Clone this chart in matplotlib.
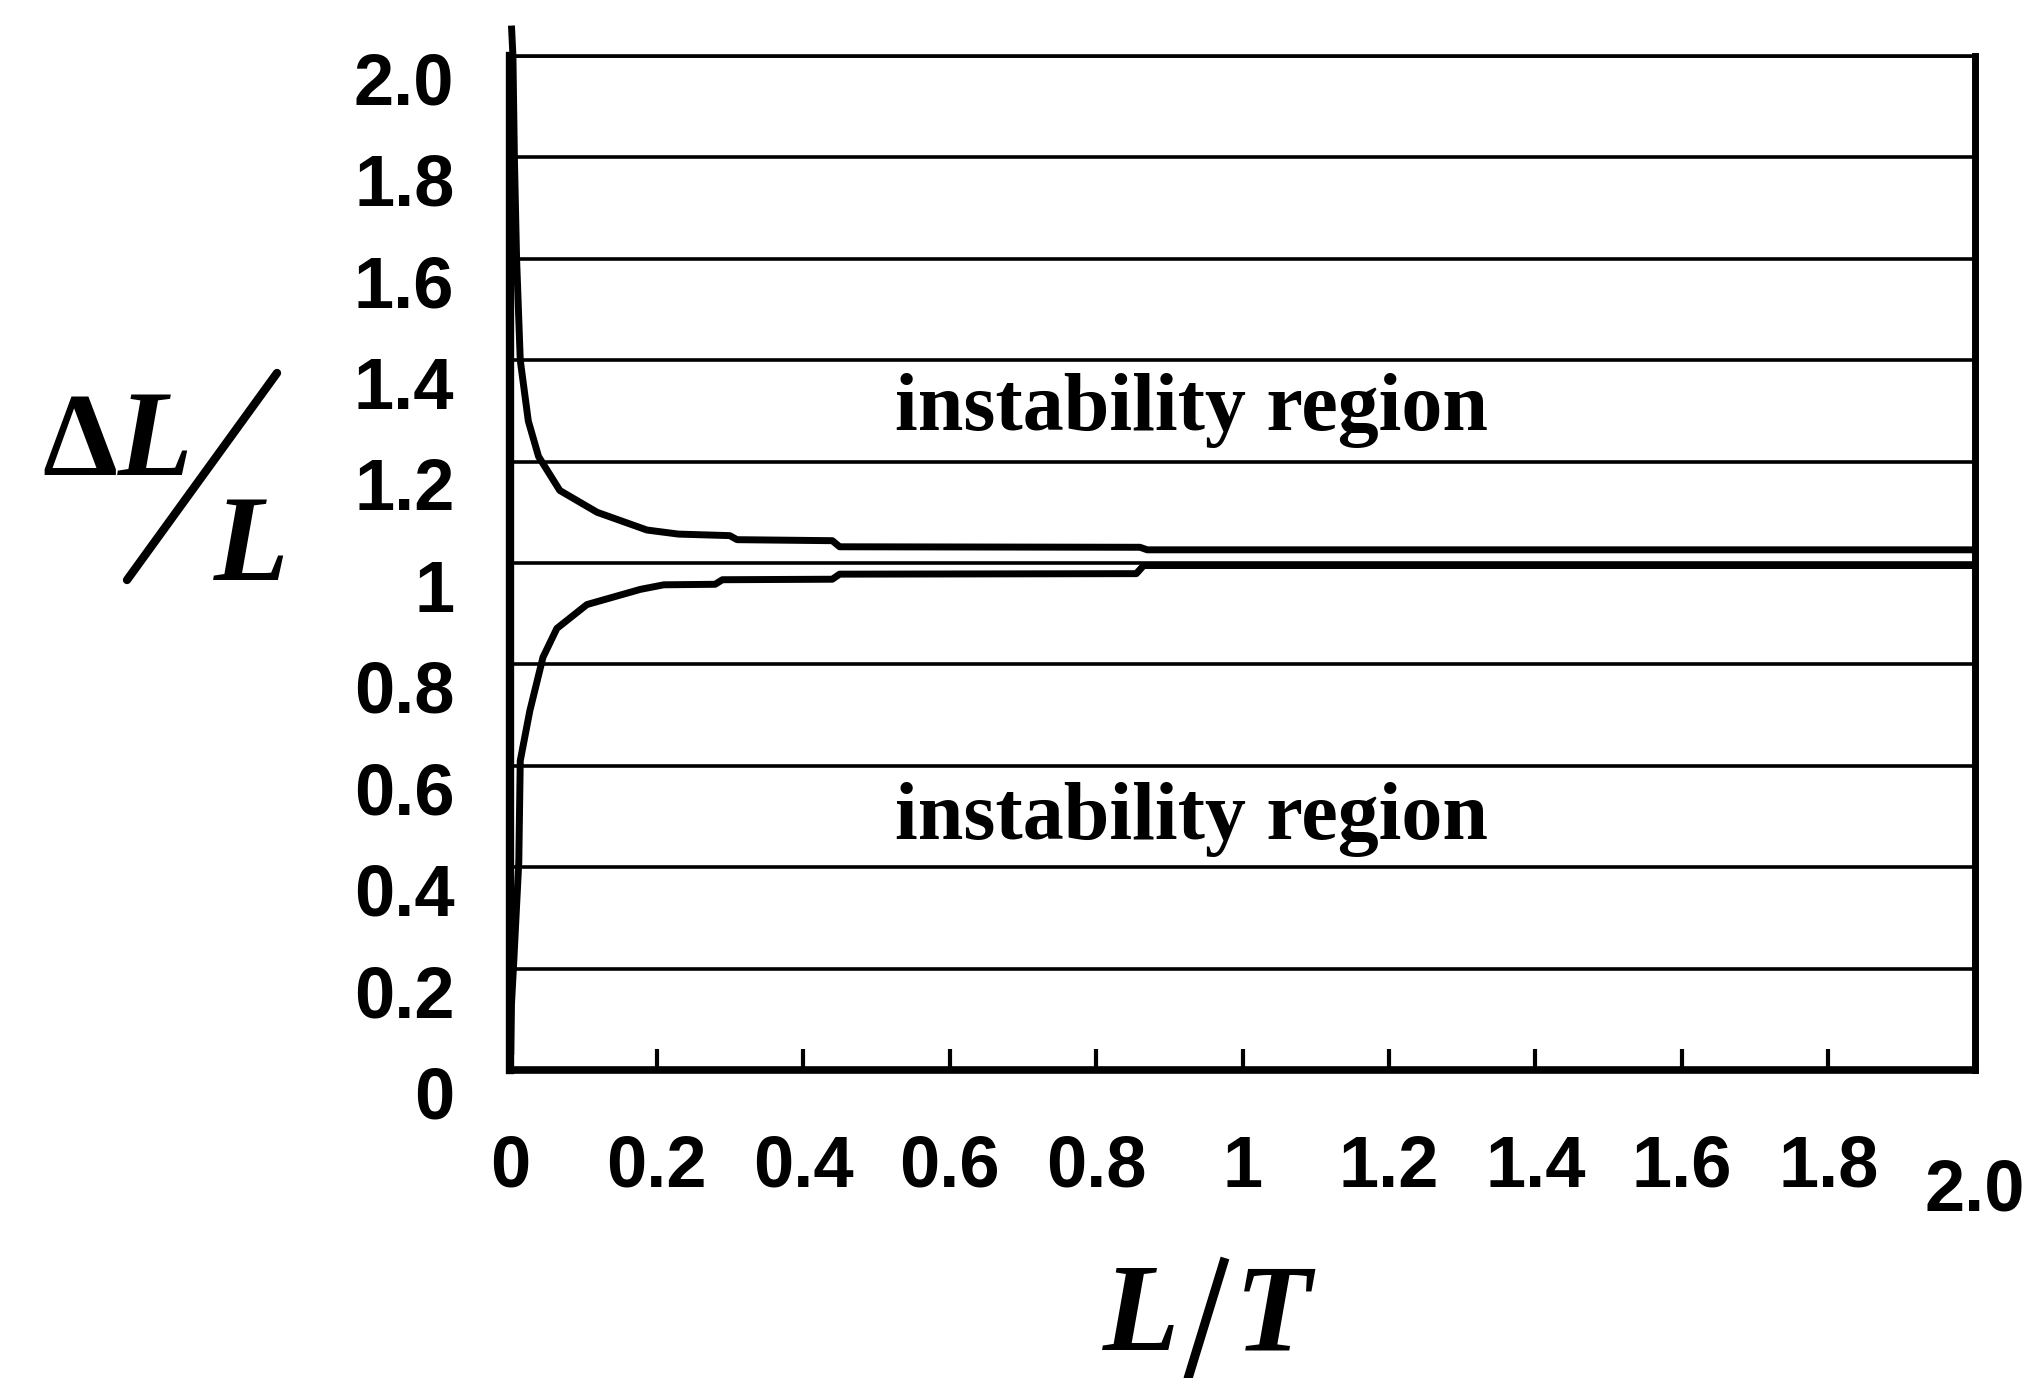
import matplotlib
matplotlib.use("Agg")
import matplotlib.pyplot as plt
from matplotlib.lines import Line2D
from matplotlib.transforms import ScaledTranslation

# ---- data ----
upper_x = [0.002, 0.004, 0.006, 0.009, 0.014, 0.025, 0.039, 0.068, 0.119, 0.187,
           0.23, 0.30, 0.31, 0.44, 0.45, 0.86, 0.87, 2.0]
upper_y = [2.06, 2.0, 1.8, 1.6, 1.4, 1.28, 1.21, 1.143, 1.10, 1.065,
           1.057, 1.054, 1.046, 1.044, 1.032, 1.031, 1.026, 1.026]
lower_x = [0.001, 0.002, 0.005, 0.012, 0.014, 0.027, 0.045, 0.064, 0.105, 0.178,
           0.21, 0.28, 0.29, 0.44, 0.45, 0.855, 0.865, 2.0]
lower_y = [0.03, 0.13, 0.21, 0.41, 0.61, 0.708, 0.814, 0.871, 0.918, 0.948,
           0.957, 0.958, 0.967, 0.968, 0.978, 0.979, 0.995, 0.995]

x_ticks = [0, 0.2, 0.4, 0.6, 0.8, 1.0, 1.2, 1.4, 1.6, 1.8, 2.0]
x_labels = ["0", "0.2", "0.4", "0.6", "0.8", "1", "1.2", "1.4", "1.6", "1.8", "2.0"]
y_ticks = [0, 0.2, 0.4, 0.6, 0.8, 1.0, 1.2, 1.4, 1.6, 1.8, 2.0]
y_labels = ["0", "0.2", "0.4", "0.6", "0.8", "1", "1.2", "1.4", "1.6", "1.8", "2.0"]
region_text = "instability region"
region_pos = [(0.93, 1.262), (0.93, 0.455)]

W, H = 2043, 1378
fig = plt.figure(figsize=(W / 100, H / 100), dpi=100)
ax = fig.add_axes([510 / W, 1 - 1070 / H, (1975 - 510) / W, (1070 - 56) / H])

ax.set_xlim(0, 2.0)
ax.set_ylim(0, 2.0)

ax.plot(upper_x, upper_y, color="black", lw=5, clip_on=False, solid_capstyle="butt")
ax.plot(lower_x, lower_y, color="black", lw=5, solid_capstyle="butt")

ax.yaxis.grid(True, color="black", lw=2.6)
ax.set_axisbelow(True)

tick_font = dict(family=["Liberation Sans Narrow", "Liberation Sans"], weight="bold", size=52)
ax.set_xticks(x_ticks)
ax.set_xticklabels(x_labels, fontdict=tick_font)
ax.set_yticks(y_ticks)
ax.set_yticklabels(y_labels, fontdict=tick_font)
ax.tick_params(axis="x", direction="in", length=15, width=3, pad=46, color="black")
ax.tick_params(axis="y", length=0, pad=40)
shift = ScaledTranslation(0, -22 / 100, fig.dpi_scale_trans)
for lab in ax.get_yticklabels():
    lab.set_transform(lab.get_transform() + shift)
last = ax.get_xticklabels()[-1]
last.set_transform(last.get_transform() + ScaledTranslation(0, -24 / 100, fig.dpi_scale_trans))

for side, lw in [("left", 6), ("right", 5), ("bottom", 5.5), ("top", 2.6)]:
    ax.spines[side].set_linewidth(lw)
    ax.spines[side].set_color("black")

for (tx, ty) in region_pos:
    ax.text(tx, ty, region_text, ha="center", va="baseline",
            family="Liberation Serif", weight="bold", size=59)

# y axis label: stacked fraction  ΔL / L
def fx(px):
    return px / W

def fy(py):
    return 1 - py / H

serif = "Liberation Serif"
fig.text(fx(42), fy(475), "Δ", ha="left", va="baseline", family=serif,
         weight="bold", size=86)
fig.text(fx(118), fy(475), "L", ha="left", va="baseline", family=serif,
         style="italic", weight="bold", size=88)
fig.add_artist(Line2D([fx(277), fx(127)], [fy(373), fy(580)], color="black", lw=6,
                      transform=fig.transFigure, solid_capstyle="round"))
fig.text(fx(214), fy(580), "L", ha="left", va="baseline", family=serif,
         style="italic", weight="bold", size=88)

# x axis label: L / T
fig.text(fx(1103), fy(1350), "L", ha="left", va="baseline", family=serif,
         style="italic", weight="bold", size=90)
fig.add_artist(Line2D([fx(1225), fx(1186)], [fy(1258), fy(1385)], color="black", lw=6.5,
                      transform=fig.transFigure, solid_capstyle="butt"))
fig.text(fx(1235), fy(1350), "T", ha="left", va="baseline", family=serif,
         style="italic", weight="bold", size=90)

fig.savefig("out.png", dpi=100, facecolor="white")
